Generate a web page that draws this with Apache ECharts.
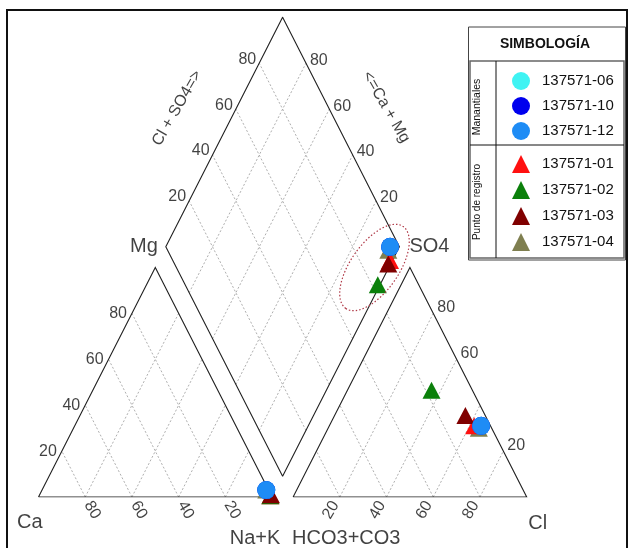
<!DOCTYPE html>
<html>
<head>
<meta charset="utf-8">
<title>Diagrama de Piper</title>
<script src="https://cdn.jsdelivr.net/npm/echarts@6/dist/echarts.min.js"></script>
<style>
  html, body { margin: 0; padding: 0; background: #fff; }
  #chart { width: 629px; height: 548px; }
</style>
</head>
<body>
<div id="chart"></div>
<script>
// samples, in drawing order (last one on top)
const samples = ['137571-04', '137571-01', '137571-02', '137571-03', '137571-06', '137571-10', '137571-12']
const colors = ['#7f7f50', '#ff1010', '#0b800b', '#800000', '#3ff3f3', '#0000ee', '#1e8cf5']
const symbols = ['triangle', 'triangle', 'triangle', 'triangle', 'circle', 'circle', 'circle']
const legendSprings = ['137571-06', '137571-10', '137571-12']
const legendWells = ['137571-01', '137571-02', '137571-03', '137571-04']

// cations (% meq)
const ca = [1, 0.5, 0.5, 0, 1, 1, 1]
const mg = [3, 0.5, 0.5, 1, 3, 3, 3]
const naK = [96, 99, 99, 99, 96, 96, 96]
// anions (% meq)
const hco3 = [5.5, 7, 17.5, 8.5, 4, 4, 4]
const so4 = [30, 31, 46.5, 35.5, 31, 31, 31]
const cl = [64.5, 62, 36, 56, 65, 65, 65]

// tick labels
const ticks = [20, 40, 60, 80]
const so4EdgeTicks = [20, 60, 80]

// piper geometry (units: triangle side = 100)
const G = 9
const H = 86.6
const DY = G * H / 100
const X_MAX = 200 + G
const Y_MAX = 2 * H + DY
const GRID = {left: 38.5, top: 17.3, width: 488.2, height: 479.7}
const SX = GRID.width / X_MAX
const SY = GRID.height / Y_MAX

const cat = (c, m, n) => [n + m / 2, m * H / 100]
const an = (h, s, c) => [100 + G + c + s / 2, s * H / 100]
const dia = (cm, cs) => [100 + G / 2 + (cs - cm) / 2, DY + (cm + cs) * H / 100]
// shift a point by a few pixels
const shift = (p, dx, dy) => [p[0] + dx / SX, p[1] - dy / SY]

const FONT = 'Liberation Sans'

// outlines
const outlines = [
  [cat(100, 0, 0), cat(0, 0, 100), cat(0, 100, 0), cat(100, 0, 0)],
  [an(100, 0, 0), an(0, 0, 100), an(0, 100, 0), an(100, 0, 0)],
  [dia(0, 0), dia(100, 0), dia(100, 100), dia(0, 100), dia(0, 0)]
]

// dashed grid
const gridSegs = []
ticks.forEach(k => {
  gridSegs.push([cat(k, 0, 100 - k), cat(k, 100 - k, 0)])
  gridSegs.push([cat(100 - k, 0, k), cat(0, 100 - k, k)])
  gridSegs.push([an(100 - k, 0, k), an(0, 100 - k, k)])
  gridSegs.push([an(k, 0, 100 - k), an(k, 100 - k, 0)])
  gridSegs.push([dia(k, 0), dia(k, 100)])
  gridSegs.push([dia(0, k), dia(100, k)])
})

// texts
const texts = []
const addText = (p, text, opt) => {
  texts.push({
    value: p,
    name: text,
    label: Object.assign({
      show: true, position: 'inside', formatter: () => text,
      fontFamily: FONT, fontSize: 16, color: '#111', align: 'center', verticalAlign: 'middle'
    }, opt)
  })
}
ticks.forEach(k => {
  addText(shift(cat(100 - k, k, 0), -5, 0), String(k), {align: 'right'})
  addText(shift(cat(k, 0, 100 - k), 7, 13), String(k), {rotate: -60})
  addText(shift(an(100 - k, 0, k), -9, 13), String(k), {rotate: 60})
  addText(shift(dia(100, k), -3, -4), String(k), {align: 'right'})
  addText(shift(dia(k, 100), 4, -3), String(k), {align: 'left'})
})
so4EdgeTicks.forEach(k => {
  addText(shift(an(0, k, 100 - k), 4, -6), String(k), {align: 'left'})
})
addText(shift(dia(100, 50), -47, -24), 'Cl + SO4=>', {rotate: 60, fontSize: 16})
addText(shift(dia(50, 100), 45, -25), '<=Ca + Mg', {rotate: -60, fontSize: 16})
addText(shift(dia(100, 0), -8, 0), 'Mg', {align: 'right', fontSize: 20})
addText(shift(dia(0, 100), 10, 0), 'SO4', {align: 'left', fontSize: 20})
addText(shift(cat(100, 0, 0), -21.5, 25), 'Ca', {align: 'left', fontSize: 20})
addText(shift(cat(0, 0, 100), -17, 41), 'Na+K', {fontSize: 20})
addText(shift(an(100, 0, 0), -1, 41), 'HCO3+CO3', {align: 'left', fontSize: 20})
addText(shift(an(0, 0, 100), 1.5, 26), 'Cl', {align: 'left', fontSize: 20})

const sampleSeries = samples.map((name, i) => ({
  name: name,
  type: 'scatter',
  symbol: symbols[i],
  symbolSize: symbols[i] === 'circle' ? 18 : [18, 17],
  itemStyle: {color: colors[i], opacity: 1},
  clip: false,
  z: 3,
  data: [
    cat(ca[i], mg[i], naK[i]),
    an(hco3[i], so4[i], cl[i]),
    dia(ca[i] + mg[i], so4[i] + cl[i])
  ]
}))

const chart = echarts.init(document.getElementById('chart'))
const legendBase = {
  orient: 'vertical', left: 507, itemWidth: 18, itemHeight: 18, selectedMode: false,
  textStyle: {fontSize: 15, color: '#111', fontFamily: FONT, padding: [0, 0, 0, 7]}
}

chart.setOption({
  backgroundColor: '#fff',
  animation: false,
  grid: GRID,
  xAxis: {type: 'value', min: 0, max: X_MAX, show: false},
  yAxis: {type: 'value', min: 0, max: Y_MAX, show: false},
  legend: [
    Object.assign({data: legendSprings, top: 67, itemGap: 7}, legendBase),
    Object.assign({data: legendWells, top: 150, itemGap: 8}, legendBase)
  ],
  graphic: [
    {type: 'rect', silent: true, z: -10, shape: {x: 7, y: 10, width: 620, height: 560},
      style: {fill: 'none', stroke: '#111', lineWidth: 2}},
    {type: 'rect', silent: true, z: 0, shape: {x: 468.5, y: 27, width: 157, height: 233},
      style: {fill: '#fff', stroke: '#444', lineWidth: 1}},
    {type: 'rect', silent: true, z: 1, shape: {x: 470, y: 61, width: 154, height: 197},
      style: {fill: 'none', stroke: '#666', lineWidth: 1.5}},
    {type: 'line', silent: true, z: 1, shape: {x1: 496, y1: 61, x2: 496, y2: 258},
      style: {stroke: '#111', lineWidth: 1}},
    {type: 'line', silent: true, z: 1, shape: {x1: 470, y1: 145, x2: 624, y2: 145},
      style: {stroke: '#111', lineWidth: 1}},
    {type: 'text', silent: true, z: 1, x: 545, y: 44,
      style: {text: 'SIMBOLOGÍA', font: 'bold 14px "Liberation Sans"', fill: '#111',
        align: 'center', verticalAlign: 'middle', textAlign: 'center', textVerticalAlign: 'middle'}},
    {type: 'text', silent: true, z: 1, x: 477, y: 107, rotation: Math.PI / 2,
      style: {text: 'Manantiales', font: '10.5px "Liberation Sans"', fill: '#111',
        align: 'center', verticalAlign: 'middle', textAlign: 'center', textVerticalAlign: 'middle'}},
    {type: 'text', silent: true, z: 1, x: 477, y: 202, rotation: Math.PI / 2,
      style: {text: 'Punto de registro', font: '10px "Liberation Sans"', fill: '#111',
        align: 'center', verticalAlign: 'middle', textAlign: 'center', textVerticalAlign: 'middle'}},
    // ellipse around the diamond group
    {type: 'ellipse', silent: true, z: 5, x: 374.5, y: 267.5, rotation: 55 * Math.PI / 180,
      shape: {cx: 0, cy: 0, rx: 50, ry: 24},
      style: {fill: 'none', stroke: '#b03a48', lineWidth: 1.2, lineDash: [1.5, 2]}}
  ],
  series: [
    {
      type: 'lines', coordinateSystem: 'cartesian2d', silent: true, z: 1,
      lineStyle: {color: '#9a9a9a', width: 0.8, type: [2, 2], opacity: 1},
      data: gridSegs.map(s => ({coords: s}))
    },
    {
      type: 'lines', coordinateSystem: 'cartesian2d', polyline: true, silent: true, z: 2,
      lineStyle: {color: '#222', width: 1.1, opacity: 1},
      data: outlines.map(s => ({coords: s}))
    },
    ...sampleSeries,
    {
      type: 'scatter', silent: true, symbolSize: 0, clip: false, z: 4,
      data: texts
    }
  ]
})
</script>
</body>
</html>
